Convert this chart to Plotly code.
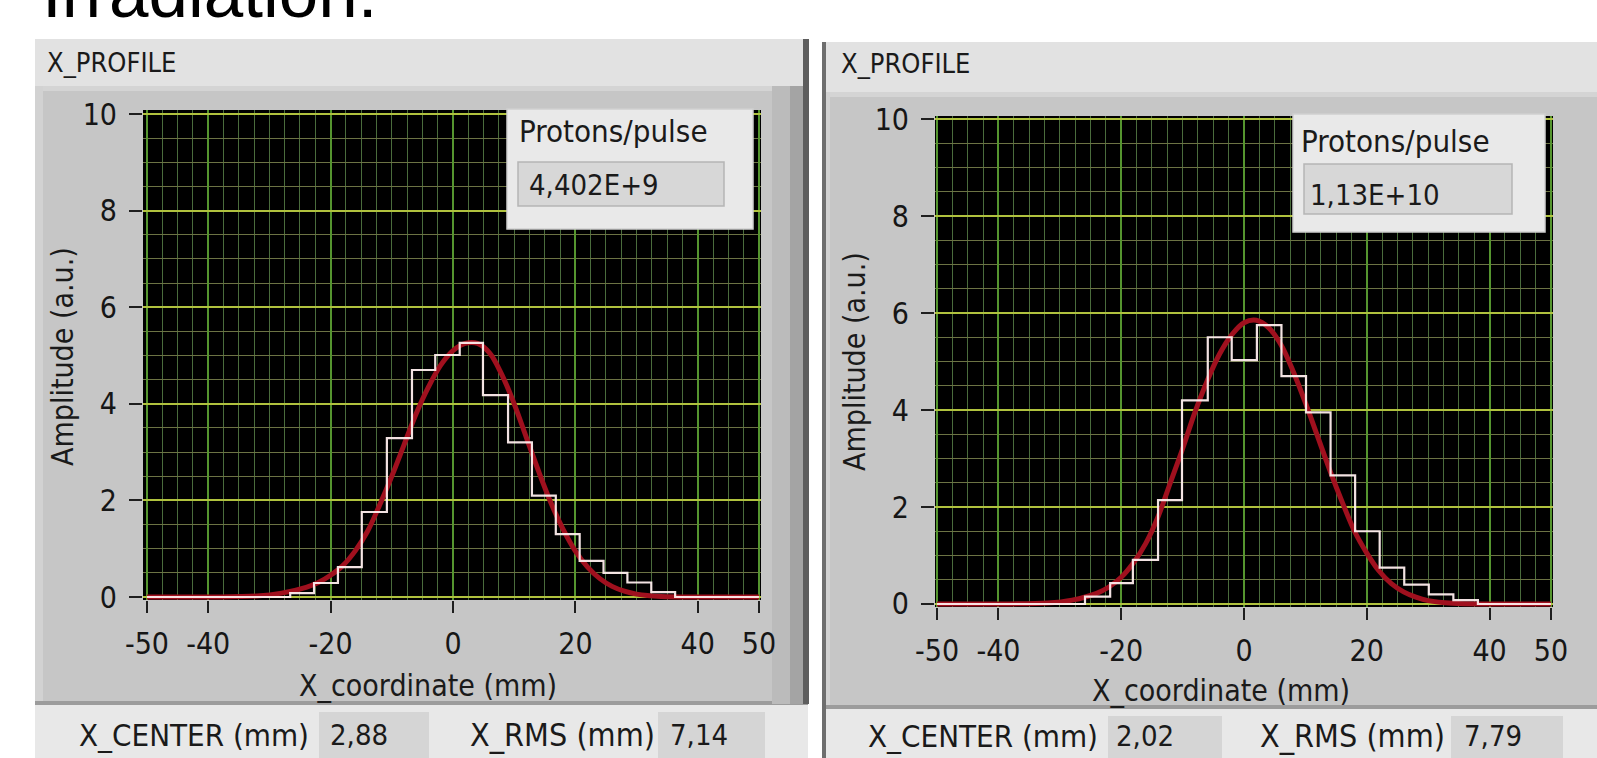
import plotly.graph_objects as go

W, H = 1597, 758
FONT = "DejaVu Sans Condensed, Liberation Sans Narrow, DejaVu Sans, sans-serif"

# ---------------- data ----------------
x_tick_vals = [-50, -40, -20, 0, 20, 40, 50]
x_tick_text = ["-50", "-40", "-20", "0", "20", "40", "50"]
y_tick_vals = [0, 2, 4, 6, 8, 10]
y_tick_text = ["0", "2", "4", "6", "8", "10"]

left_step_x = [-50, -26.6, -22.7, -18.8, -14.9, -10.8, -6.7, -2.9, 1.1, 4.9, 9.0,
               12.9, 16.8, 20.7, 24.6, 28.5, 32.4, 36.3, 50]
left_step_y = [0, 0.08, 0.29, 0.62, 1.76, 3.29, 4.70, 5.01, 5.26, 4.18, 3.2,
               2.1, 1.3, 0.75, 0.5, 0.3, 0.1, 0, 0]
left_fit_x = [-50, -40, -32, -28, -24, -22, -20, -18, -16, -14, -12, -10, -8, -6, -4, -2,
              0, 2, 4, 6, 8, 10, 12, 14, 16, 18, 20, 22, 24, 26, 28, 30, 34, 40, 50]
left_fit_y = [0, 0, 0.02, 0.08, 0.2, 0.3, 0.45, 0.65, 0.95, 1.35, 1.9, 2.5, 3.15, 3.8, 4.35, 4.8,
              5.1, 5.25, 5.25, 5.05, 4.6, 4.0, 3.3, 2.6, 1.95, 1.4, 0.95, 0.62, 0.38, 0.22, 0.12,
              0.06, 0.01, 0, 0]

right_step_x = [-50, -25.9, -21.8, -18.1, -14.0, -10.1, -5.9, -2.0, 2.1, 6.1, 10.1,
                14.1, 18.1, 22.1, 26.1, 30.1, 34.1, 38.1, 50]
right_step_y = [0, 0.15, 0.43, 0.91, 2.14, 4.2, 5.5, 5.03, 5.75, 4.7, 3.95,
                2.65, 1.5, 0.75, 0.4, 0.2, 0.08, 0, 0]
right_fit_x = left_fit_x
right_fit_y = [0, 0, 0.02, 0.08, 0.22, 0.35, 0.55, 0.85, 1.25, 1.8, 2.5, 3.2, 3.95, 4.6, 5.15,
               5.55, 5.8, 5.85, 5.7, 5.35, 4.8, 4.15, 3.45, 2.75, 2.1, 1.5, 1.05, 0.68, 0.42,
               0.25, 0.14, 0.07, 0.015, 0, 0]

panel_titles = ["X_PROFILE", "X_PROFILE"]
protons_label = "Protons/pulse"
protons_vals = ["4,402E+9", "1,13E+10"]
center_vals = ["2,88", "2,02"]
rms_vals = ["7,14", "7,79"]
heading = "Irradiation:"


def fx(px):
    return px / W


def fy(py):
    return 1 - py / H


fig = go.Figure()

RED = "#a0101e"
WHITE = "rgba(255,238,238,0.95)"

for sx, sy, fxs, fys, xa, ya in [
    (left_step_x, left_step_y, left_fit_x, left_fit_y, "x", "y"),
    (right_step_x, right_step_y, right_fit_x, right_fit_y, "x2", "y2"),
]:
    fig.add_trace(go.Scatter(x=fxs, y=fys, mode="lines", line=dict(color=RED, width=5, shape="spline"),
                             xaxis=xa, yaxis=ya, showlegend=False, hoverinfo="skip"))
    fig.add_trace(go.Scatter(x=sx, y=sy, mode="lines", line=dict(color=WHITE, width=2.2, shape="hv"),
                             xaxis=xa, yaxis=ya, showlegend=False, hoverinfo="skip"))


def xaxis(domain, rng):
    return dict(domain=domain, range=rng, tickmode="array", tickvals=x_tick_vals, ticktext=x_tick_text,
                ticks="outside", ticklen=12, tickwidth=2, tickcolor="#1e1e1e", automargin=False,
                showgrid=True, gridcolor="#55952f", gridwidth=1.5, zeroline=False, showline=False,
                tickfont=dict(family=FONT, size=30, color="#161616"), ticklabelstandoff=5,
                minor=dict(tickmode="linear", tick0=-50, dtick=2.5, showgrid=True,
                           gridcolor="#4a6c3c", gridwidth=1),
                fixedrange=True)


def yaxis(domain, rng, anchor):
    return dict(domain=domain, range=rng, anchor=anchor, tickmode="array", tickvals=y_tick_vals,
                ticktext=y_tick_text, ticks="outside", ticklen=13, tickwidth=2, tickcolor="#1e1e1e",
                automargin=False,
                showgrid=True, gridcolor="#b0c23e", gridwidth=2, zeroline=False, showline=False,
                tickfont=dict(family=FONT, size=30, color="#161616"), ticklabelstandoff=6,
                minor=dict(tickmode="linear", tick0=0, dtick=0.5, showgrid=True,
                           gridcolor="#6c7344", gridwidth=1),
                fixedrange=True)


fig.update_layout(
    template="none",
    width=W, height=H, margin=dict(l=0, r=0, t=0, b=0, pad=0), autosize=False,
    paper_bgcolor="white", plot_bgcolor="black",
    xaxis=xaxis([fx(143), fx(761)], [-50.65, 50.33]) | dict(anchor="y"),
    yaxis=yaxis([fy(600), fy(110)], [-0.062, 10.083], "x"),
    xaxis2=xaxis([fx(935), fx(1553)], [-50.33, 50.33]) | dict(anchor="y2"),
    yaxis2=yaxis([fy(607), fy(116)], [-0.062, 10.062], "x2"),
)

shapes = []


def rect(x0, y0, x1, y1, color, layer="below", line=None):
    d = dict(type="rect", xref="paper", yref="paper", x0=fx(x0), x1=fx(x1), y0=fy(y1), y1=fy(y0),
             fillcolor=color, layer=layer, line=dict(width=0))
    if line:
        d["line"] = dict(color=line, width=1.5)
    shapes.append(d)


for (L, T, FT, FB, R, plot_box) in [
    (35, 39, 86, 704, 808, (143, 110, 761, 600)),
    (822, 42, 92, 708, 1597, (935, 116, 1553, 607)),
]:
    rect(L, T, R, FT, "#e2e2e2")
    rect(L, FT, R, FB, "#c6c6c6")
    rect(L, FT, R, FT + 5, "#d4d4d4")
    rect(L, FT, L + 8, FB, "#d2d2d2")
    rect(L, FB, R, 758, "#e8e8e8")
    rect(L, FB - 3, R, FB + 1, "#9c9c9c")
    px0, py0, px1, py1 = plot_box
    rect(px0, py0, px1, py1, "black")

rect(772, 86, 790, 704, "#bbbbbb")
rect(790, 86, 803, 704, "#a4a4a4")
rect(803, 39, 809, 704, "#5e5e5e")
rect(822, 42, 826, 758, "#6e6e6e")

for (x0, x1, y0) in [(319, 429, 712), (658, 765, 712), (1108, 1222, 716), (1451, 1563, 716)]:
    rect(x0, y0, x1, 758, "#d5d5d5")

for (bx0, by0, bx1, by1, gx0, gy0, gx1, gy1) in [
    (507, 109, 753, 229, 518, 162, 724, 206),
    (1293, 114, 1545, 232, 1304, 164, 1512, 214),
]:
    rect(bx0, by0, bx1, by1, "#e9e9e9", layer="above", line="#cfcfcf")
    rect(gx0, gy0, gx1, gy1, "#d7d7d7", layer="above", line="#b5b5b5")

fig.update_layout(shapes=shapes)

ann = []


def text(t, x, y, size, xanchor="left", angle=0, family=FONT, color="#1a1a1a"):
    ann.append(dict(text=t, x=fx(x), y=fy(y), xref="paper", yref="paper", xanchor=xanchor,
                    yanchor="middle", showarrow=False, textangle=angle,
                    font=dict(family=family, size=size, color=color)))


text(heading, 40, -8, 71, family="Liberation Sans, Arial, sans-serif", color="black")

text(panel_titles[0], 45, 62, 27)
text("Amplitude (a.u.)", 63, 357, 30, xanchor="center", angle=-90)
text("X_coordinate (mm)", 428, 685, 30, xanchor="center")
text(protons_label, 517, 131, 31)
text(protons_vals[0], 527, 185, 29)
text("X_CENTER (mm)", 194, 735, 31, xanchor="center")
text(center_vals[0], 328, 735, 29)
text("X_RMS (mm)", 562, 735, 32, xanchor="center")
text(rms_vals[0], 668, 735, 29)

text(panel_titles[1], 839, 64, 27)
text("Amplitude (a.u.)", 855, 362, 30, xanchor="center", angle=-90)
text("X_coordinate (mm)", 1221, 690, 30, xanchor="center")
text(protons_label, 1299, 141, 31)
text(protons_vals[1], 1308, 195, 29)
text("X_CENTER (mm)", 983, 736, 31, xanchor="center")
text(center_vals[1], 1114, 736, 29)
text("X_RMS (mm)", 1352, 736, 32, xanchor="center")
text(rms_vals[1], 1462, 736, 29)

fig.update_layout(annotations=ann)

fig.write_html("out.html")
